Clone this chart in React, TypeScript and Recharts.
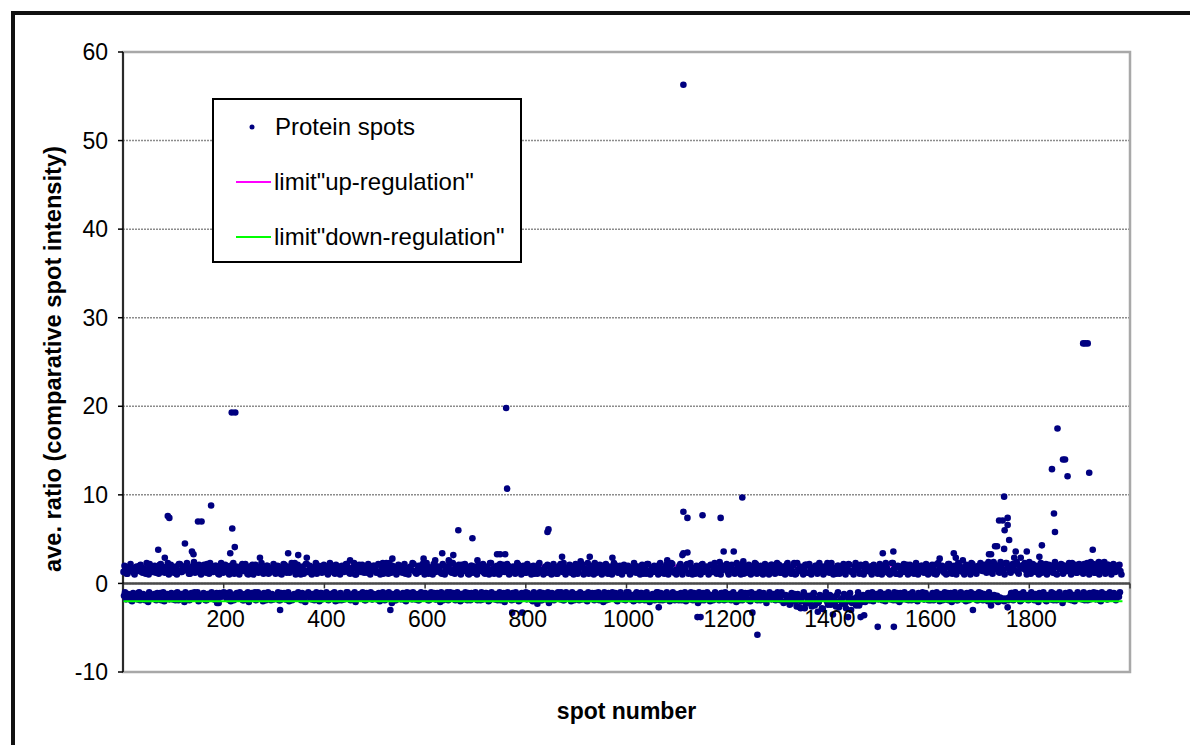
import { ScatterChart, Scatter, XAxis, YAxis, CartesianGrid, ReferenceLine, ReferenceArea } from 'recharts';

const upBand = [
  1.3, 1.6, 1.1, 1.9, 1.4, 1.2, 1.8, 1.5, 2.0, 1.3, 1.7, 1.1, 1.6, 2.2, 1.4, 1.9, 1.2, 1.5, 2.1, 1.3, 1.8, 1.6, 2.3, 1.4, 1.7,
  1.2, 1.9, 1.5, 2.2, 1.3, 1.7, 2.0, 1.4, 1.1, 1.8, 2.4, 1.5, 1.3, 1.9, 1.6, 2.1, 1.2, 1.7, 2.3, 1.4, 1.5, 2.0, 1.1, 1.8, 1.6,
  1.4, 1.7, 1.2, 2.0, 1.5, 1.1, 1.9, 1.3, 1.6, 2.2, 1.4, 1.8, 1.0, 1.5, 2.1, 1.3, 1.7, 1.2, 1.9, 1.6, 1.4, 2.0, 1.1, 1.5, 1.8,
  1.3, 1.6, 1.9, 1.1, 1.5, 2.1, 1.2, 1.8, 1.4, 1.7, 2.3, 1.3, 1.6, 1.0, 1.9, 1.4, 2.2, 1.5, 1.2, 1.8, 1.6, 1.1, 2.0, 1.4, 1.7,
  1.5, 1.2, 1.8, 1.4, 2.0, 1.1, 1.6, 1.9, 1.3, 1.7, 1.5, 2.2, 1.2, 1.4, 1.8, 1.0, 1.6, 2.1, 1.3, 1.5, 1.9, 1.2, 1.7, 1.4, 2.0,
  1.6, 1.3, 2.1, 1.5, 1.1, 1.8, 1.4, 2.3, 1.2, 1.7, 1.5, 1.9, 1.3, 1.6, 2.0, 1.1, 1.4, 1.8, 1.5, 2.2, 1.2, 1.6, 1.3, 1.9, 1.7,
  1.4, 1.9, 1.2, 1.6, 2.2, 1.3, 1.8, 1.5, 1.1, 2.0, 1.4, 1.7, 2.4, 1.2, 1.6, 1.9, 1.3, 1.5, 2.1, 1.4, 1.8, 1.1, 1.7, 2.0, 1.5,
  1.3, 1.7, 1.5, 2.0, 1.2, 1.8, 1.4, 2.3, 1.6, 1.1, 1.9, 1.5, 2.2, 1.3, 1.7, 1.4, 2.0, 1.2, 1.6, 1.8, 1.3, 2.1, 1.5, 1.4, 1.9,
  1.2, 1.6, 1.9, 1.4, 1.1, 1.8, 2.1, 1.3, 1.5, 1.7, 1.2, 2.0, 1.6, 1.4, 1.9, 1.1, 1.5, 2.2, 1.3, 1.7, 1.4, 1.8, 1.2, 1.6, 2.0,
  1.5, 1.3, 1.8, 2.1, 1.4, 1.6, 1.1, 1.9, 1.5, 2.3, 1.2, 1.7, 1.4, 2.0, 1.3, 1.6, 1.8, 1.1, 1.5, 2.1, 1.4, 1.7, 1.2, 1.9, 1.6,
  1.4, 1.8, 1.2, 1.6, 2.0, 1.3, 1.5, 1.9, 1.1, 1.7, 2.2, 1.4, 1.6, 1.3, 1.8, 1.5, 2.1, 1.2, 1.7, 1.4, 1.9, 1.6, 2.3, 1.3, 1.5,
  1.6, 2.0, 1.3, 1.7, 1.5, 2.2, 1.2, 1.8, 1.4, 1.1, 1.9, 1.6, 2.1, 1.3, 1.5, 1.8, 1.2, 2.0, 1.4, 1.7, 1.3, 2.4, 1.5, 1.6, 1.9,
  1.3, 1.7, 2.1, 1.4, 1.2, 1.9, 1.5, 1.8, 1.1, 1.6, 2.0, 1.3, 1.7, 1.5, 2.2, 1.4, 1.2, 1.8, 1.6, 1.3, 1.9, 1.5, 2.1, 1.4, 1.7,
  1.5, 1.2, 1.8, 1.6, 2.0, 1.3, 1.7, 1.4, 2.3, 1.1, 1.6, 1.9, 1.4, 1.5, 2.1, 1.2, 1.8, 1.3, 1.7, 2.0, 1.5, 1.4, 1.9, 1.2, 1.6,
  1.4, 1.9, 1.3, 1.7, 1.1, 2.0, 1.5, 1.8, 1.2, 1.6, 2.2, 1.4, 1.3, 1.9, 1.5, 1.7, 2.1, 1.2, 1.6, 1.4, 1.8, 1.3, 2.0, 1.5, 1.7,
  1.6, 1.3, 2.0, 1.5, 1.8, 1.2, 1.4, 2.3, 1.7, 1.1, 1.9, 1.5, 1.3, 1.8, 2.1, 1.4, 1.6, 1.2, 1.9, 1.5, 1.7, 2.0, 1.3, 1.6, 1.4,
  1.3, 1.8, 1.5, 2.1, 1.2, 1.6, 1.9, 1.4, 1.7, 1.1, 2.2, 1.5, 1.3, 1.8, 1.6, 2.0, 1.4, 1.2, 1.9, 1.5, 1.7, 2.3, 1.3, 1.6, 1.8,
  1.5, 2.0, 1.4, 1.8, 2.2, 1.3, 1.7, 2.4, 1.6, 1.9, 1.2, 2.1, 1.5, 2.3, 1.8, 1.4, 2.0, 1.6, 2.2, 1.3, 1.9, 1.7, 2.1, 1.5, 1.8,
  1.4, 1.7, 2.0, 1.3, 1.6, 1.9, 1.2, 1.8, 2.2, 1.5, 1.4, 2.0, 1.7, 1.1, 1.9, 1.6, 2.1, 1.3, 1.5, 1.8, 1.4, 2.3, 1.6, 1.2, 1.9,
  1.6, 1.3, 2.2, 1.5, 1.8, 1.4, 2.0, 1.2, 1.7, 2.3, 1.5, 1.9, 1.4, 1.6, 2.1, 1.3, 1.8, 1.5, 2.0, 1.7, 1.4,
];

// upper cloud, spots 3, 7, 11, ...
const upBand2 = [
  2.0, 1.1, 1.5, 2.2, 1.7, 1.0, 1.9, 1.4, 2.1, 1.2, 1.6, 2.3, 1.0, 1.8, 1.3, 2.0, 1.5, 1.1, 2.2, 1.7, 1.2, 1.9, 1.0, 2.1, 1.4,
  1.8, 1.0, 2.2, 1.3, 1.9, 1.5, 2.3, 1.1, 1.7, 2.0, 1.2, 1.6, 2.1, 1.0, 1.8, 1.4, 2.2, 1.1, 1.9, 1.3, 2.0, 1.6, 1.0, 2.3, 1.2,
  2.1, 1.5, 1.0, 1.8, 2.3, 1.2, 1.7, 1.0, 2.0, 1.4, 2.2, 1.1, 1.9, 1.6, 1.0, 2.1, 1.3, 1.8, 2.3, 1.1, 1.5, 2.0, 1.2, 1.7, 2.2,
  1.1, 2.0, 1.7, 1.0, 2.2, 1.4, 1.9, 1.2, 2.3, 1.6, 1.0, 2.1, 1.5, 1.8, 1.1, 2.2, 1.3, 2.0, 1.0, 1.7, 2.3, 1.4, 1.9, 1.2, 2.1,
  1.9, 1.0, 2.3, 1.5, 1.2, 2.1, 1.7, 1.0, 2.0, 1.3, 2.2, 1.8, 1.1, 1.6, 2.3, 1.0, 1.9, 1.4, 2.1, 1.2, 1.7, 2.2, 1.0, 1.5, 2.0,
  1.2, 2.2, 1.0, 1.9, 1.6, 2.3, 1.1, 1.8, 2.0, 1.3, 1.0, 2.1, 1.7, 1.2, 2.2, 1.5, 1.0, 1.9, 2.3, 1.4, 1.1, 2.0, 1.6, 2.2, 1.0,
  2.3, 1.1, 1.8, 1.0, 2.1, 1.5, 1.9, 1.2, 2.2, 1.0, 1.7, 2.0, 1.3, 2.3, 1.1, 1.6, 2.1, 1.0, 1.8, 2.2, 1.4, 1.0, 2.0, 1.2, 1.9,
  1.0, 2.1, 1.4, 2.2, 1.1, 1.9, 1.0, 2.3, 1.6, 1.2, 2.0, 1.0, 1.8, 2.1, 1.3, 2.2, 1.0, 1.7, 1.9, 1.1, 2.3, 1.5, 1.0, 2.0, 1.2,
  2.2, 1.3, 1.0, 2.0, 1.7, 1.1, 2.3, 1.5, 1.0, 1.9, 2.1, 1.2, 1.0, 2.2, 1.6, 1.1, 2.0, 1.4, 2.3, 1.0, 1.8, 2.1, 1.3, 1.0, 2.2,
  1.1, 1.9, 2.2, 1.0, 1.6, 2.3, 1.2, 2.0, 1.0, 1.8, 1.3, 2.1, 1.0, 1.7, 2.2, 1.1, 1.9, 1.0, 2.3, 1.5, 1.2, 2.0, 1.0, 2.1, 1.4,
  2.0, 1.0, 1.7, 2.3, 1.2, 1.9, 1.0, 2.1, 1.5, 1.1, 2.2, 1.0, 1.8, 2.0, 1.3, 1.0, 2.3, 1.6, 1.1, 2.1, 1.0, 1.9, 2.2, 1.2, 1.0,
  1.3, 2.2, 1.0, 1.8, 2.1, 1.1, 2.3, 1.0, 1.7, 2.0, 1.2, 1.0, 2.2, 1.5, 1.9, 1.0, 2.1, 1.3, 2.3, 1.1, 1.8, 1.0, 2.0, 1.6, 2.2,
  1.0, 2.0, 1.6, 1.1, 2.3, 1.4, 1.0, 2.2, 1.8, 1.2, 2.1, 1.0, 1.9, 2.3, 1.1, 1.7, 2.0, 1.0, 2.2, 1.3, 1.0, 2.1, 1.8, 1.1, 2.3,
  2.1, 1.2, 1.9, 1.0, 2.2, 1.6, 1.1, 2.0, 1.0, 2.3, 1.4, 1.8, 1.0, 2.1, 1.2, 2.2, 1.0, 1.7, 2.0, 1.1, 2.3, 1.3, 1.0, 1.9, 2.1,
  1.2, 2.3, 1.0, 1.7, 2.0, 1.1, 1.9, 2.2, 1.0, 1.5, 2.1, 1.3, 1.0, 2.3, 1.8, 1.1, 2.0, 1.0, 2.2, 1.4, 1.9, 1.0, 2.1, 1.6, 1.1,
  2.2, 1.0, 1.8, 2.1, 1.2, 1.0, 2.3, 1.6, 1.1, 2.0, 1.0, 1.9, 2.2, 1.3, 1.0, 2.1, 1.7, 1.1, 2.3, 1.0, 1.5, 2.0, 1.2, 2.2, 1.0,
  1.9, 2.1, 1.1, 1.0, 2.3, 1.5, 2.0, 1.2, 1.0, 2.2, 1.7, 1.1, 2.0, 1.0, 2.3, 1.4, 1.8, 1.0, 2.1, 1.3, 1.0, 2.2, 1.9, 1.1, 2.0,
  2.3, 1.4, 2.1, 1.2, 2.4, 1.8, 1.1, 2.2, 2.0, 1.3, 2.4, 1.6, 1.0, 2.3, 1.9, 1.2, 2.2, 1.5, 2.4, 1.1, 2.0, 1.7, 2.3, 1.0, 2.1,
  1.1, 2.2, 1.5, 2.0, 1.0, 2.3, 1.3, 1.9, 1.0, 2.1, 1.6, 1.2, 2.4, 1.0, 1.8, 2.2, 1.1, 2.0, 1.4, 2.3, 1.0, 1.7, 2.1, 1.2, 2.2,
  2.0, 1.1, 1.8, 2.3, 1.0, 1.6, 2.2, 1.2, 2.0, 1.0, 2.3, 1.4, 1.1, 2.1, 1.9, 1.0, 2.2, 1.3, 1.7, 2.1, 1.0,
];

// cloud below zero, spots 2, 6, 10, ...
const downBand = [
  -1.4, -1.8, -1.2, -1.6, -2.0, -1.3, -1.7, -1.1, -1.9, -1.5, -1.3, -1.8, -2.1, -1.4, -1.6, -1.2, -1.9, -1.5, -1.1, -1.7, -2.0, -1.3, -1.6, -1.4, -1.8,
  -1.5, -1.1, -1.9, -1.3, -1.7, -2.1, -1.4, -1.2, -1.8, -1.6, -1.0, -1.5, -2.0, -1.3, -1.7, -1.4, -1.9, -1.2, -1.6, -1.5, -1.8, -1.1, -2.2, -1.4, -1.3,
  -1.2, -1.7, -1.5, -2.0, -1.3, -1.8, -1.1, -1.6, -1.4, -1.9, -1.2, -1.5, -2.1, -1.3, -1.7, -1.0, -1.8, -1.4, -1.6, -2.0, -1.2, -1.5, -1.3, -1.9, -1.7,
  -1.6, -1.3, -1.9, -1.1, -1.5, -1.8, -1.2, -2.0, -1.4, -1.7, -1.3, -1.6, -1.1, -1.9, -1.5, -2.1, -1.2, -1.4, -1.8, -1.6, -1.3, -1.7, -2.0, -1.1, -1.5,
  -1.3, -1.8, -1.4, -1.6, -1.1, -2.0, -1.5, -1.2, -1.9, -1.7, -1.4, -1.0, -1.8, -1.3, -1.6, -2.1, -1.5, -1.2, -1.7, -1.4, -1.9, -1.3, -1.6, -1.8, -1.2,
  -1.7, -1.2, -2.0, -1.5, -1.3, -1.8, -1.1, -1.6, -2.2, -1.4, -1.9, -1.2, -1.5, -1.7, -1.3, -2.0, -1.6, -1.1, -1.8, -1.4, -1.5, -1.9, -1.2, -1.7, -1.3,
  -1.4, -1.9, -1.3, -1.6, -1.1, -1.8, -1.5, -2.1, -1.2, -1.7, -1.4, -1.9, -1.0, -1.6, -1.3, -1.8, -1.5, -2.0, -1.2, -1.4, -1.7, -1.1, -1.9, -1.5, -1.6,
  -1.2, -1.6, -1.9, -1.4, -1.7, -1.1, -2.0, -1.5, -1.3, -1.8, -1.6, -1.2, -1.9, -1.4, -2.1, -1.3, -1.7, -1.5, -1.1, -1.8, -1.4, -2.0, -1.6, -1.2, -1.5,
  -1.8, -1.3, -1.5, -2.0, -1.2, -1.7, -1.4, -1.9, -1.1, -1.6, -1.3, -2.2, -1.5, -1.8, -1.2, -1.4, -1.7, -1.0, -1.9, -1.6, -1.3, -1.5, -2.0, -1.4, -1.7,
  -1.5, -1.9, -1.2, -1.7, -1.4, -2.0, -1.3, -1.6, -1.8, -1.1, -1.5, -1.9, -1.3, -2.1, -1.6, -1.2, -1.8, -1.4, -1.7, -1.1, -2.0, -1.5, -1.3, -1.6, -1.9,
  -1.3, -1.7, -1.4, -2.0, -1.2, -1.6, -1.9, -1.1, -1.5, -1.8, -1.4, -2.1, -1.3, -1.7, -1.5, -1.0, -1.9, -1.6, -1.2, -1.8, -1.4, -2.0, -1.5, -1.3, -1.7,
  -1.6, -1.2, -1.9, -1.5, -2.0, -1.3, -1.8, -1.4, -1.1, -1.7, -2.2, -1.5, -1.3, -1.9, -1.6, -1.2, -2.0, -1.4, -1.8, -1.5, -1.3, -1.7, -1.1, -1.9, -1.6,
  -1.4, -1.8, -1.3, -1.6, -2.1, -1.5, -1.2, -1.9, -1.7, -1.4, -1.1, -2.0, -1.6, -1.3, -1.8, -1.5, -1.9, -1.2, -1.7, -2.2, -1.4, -1.6, -1.3, -1.8, -1.5,
  -1.5, -1.9, -1.3, -2.1, -1.6, -1.4, -2.3, -1.8, -1.2, -2.6, -1.7, -2.0, -1.5, -2.8, -1.4, -2.2, -1.9, -1.3, -2.5, -1.7, -2.1, -1.6, -2.9, -1.4, -2.0,
  -1.8, -2.4, -1.5, -2.1, -1.3, -2.7, -1.9, -1.6, -2.3, -1.4, -2.0, -3.0, -1.7, -2.2, -1.5, -2.5, -1.8, -1.3, -2.1, -1.6, -1.9, -1.4, -2.0, -1.7, -1.5,
  -1.3, -1.8, -1.5, -2.0, -1.2, -1.7, -1.4, -1.9, -1.6, -1.1, -2.1, -1.5, -1.3, -1.8, -1.6, -1.2, -1.9, -1.4, -1.7, -2.0, -1.3, -1.5, -1.8, -1.1, -1.6,
  -1.7, -1.3, -1.9, -1.5, -1.2, -2.0, -1.6, -1.4, -1.8, -1.1, -1.5, -2.1, -1.3, -1.7, -1.9, -1.4, -1.6, -1.2, -2.0, -1.5, -1.8, -1.3, -1.7, -1.4, -1.9,
  -1.4, -1.8, -1.2, -1.6, -2.0, -1.5, -1.9, -1.3, -1.7, -2.1, -1.6, -1.8, -2.0, -1.7, -1.9, -1.5, -1.1, -1.8, -1.4, -1.6, -2.0, -1.2, -1.7, -1.5, -1.9,
  -1.5, -1.2, -1.9, -1.6, -2.1, -1.3, -1.7, -1.4, -2.0, -1.5, -1.8, -1.1, -1.6, -1.9, -1.3, -1.7, -2.2, -1.4, -1.5, -1.8, -1.2, -1.6, -2.0, -1.4, -1.7,
  -1.3, -1.6, -1.9, -1.2, -1.5, -1.8, -1.4, -1.7, -1.1, -1.6, -2.0, -1.3, -1.5, -1.8, -1.2, -1.7, -1.4, -1.6, -1.3, -1.5,
];

// cloud below zero, spots 4, 8, 12, ...
const downBand2 = [
  -1.0, -1.7, -1.3, -1.9, -1.1, -1.5, -1.8, -1.0, -1.6, -1.2, -1.9, -1.4, -1.0, -1.7, -1.3, -1.8, -1.1, -1.5, -1.9, -1.0, -1.6, -1.2, -1.8, -1.1, -1.4,
  -1.9, -1.0, -1.6, -1.2, -1.8, -1.0, -1.4, -1.9, -1.1, -1.7, -1.3, -1.0, -1.8, -1.5, -1.1, -1.9, -1.2, -1.6, -1.0, -1.8, -1.3, -1.9, -1.1, -1.5, -1.0,
  -1.1, -1.8, -1.0, -1.5, -1.9, -1.2, -1.7, -1.0, -1.6, -1.9, -1.3, -1.0, -1.8, -1.1, -1.6, -1.9, -1.0, -1.4, -1.7, -1.1, -1.9, -1.0, -1.6, -1.2, -1.8,
  -1.7, -1.0, -1.9, -1.3, -1.1, -1.8, -1.0, -1.5, -1.9, -1.2, -1.6, -1.0, -1.8, -1.1, -1.9, -1.4, -1.0, -1.7, -1.2, -1.9, -1.0, -1.6, -1.1, -1.8, -1.3,
  -1.0, -1.9, -1.2, -1.7, -1.0, -1.6, -1.9, -1.1, -1.4, -1.8, -1.0, -1.5, -1.9, -1.2, -1.0, -1.8, -1.3, -1.7, -1.0, -1.9, -1.1, -1.6, -1.0, -1.8, -1.4,
  -1.8, -1.1, -1.6, -1.0, -1.9, -1.3, -1.0, -1.7, -1.2, -1.9, -1.0, -1.5, -1.8, -1.1, -1.9, -1.0, -1.4, -1.7, -1.0, -1.8, -1.2, -1.9, -1.0, -1.6, -1.1,
  -1.2, -1.9, -1.0, -1.6, -1.8, -1.1, -1.7, -1.0, -1.9, -1.3, -1.0, -1.8, -1.5, -1.1, -1.9, -1.0, -1.6, -1.2, -1.8, -1.0, -1.9, -1.4, -1.1, -1.7, -1.0,
  -1.9, -1.3, -1.0, -1.8, -1.1, -1.6, -1.9, -1.0, -1.5, -1.2, -1.9, -1.0, -1.7, -1.1, -1.8, -1.0, -1.4, -1.9, -1.2, -1.0, -1.7, -1.9, -1.1, -1.6, -1.0,
  -1.1, -1.6, -1.9, -1.0, -1.7, -1.2, -1.0, -1.9, -1.4, -1.8, -1.0, -1.6, -1.1, -1.9, -1.3, -1.0, -1.8, -1.2, -1.9, -1.0, -1.5, -1.7, -1.0, -1.9, -1.2,
  -1.7, -1.0, -1.8, -1.2, -1.9, -1.0, -1.5, -1.1, -1.9, -1.6, -1.0, -1.8, -1.3, -1.0, -1.9, -1.1, -1.7, -1.0, -1.6, -1.9, -1.2, -1.0, -1.8, -1.4, -1.0,
  -1.0, -1.8, -1.3, -1.9, -1.0, -1.7, -1.1, -1.6, -1.9, -1.0, -1.4, -1.8, -1.2, -1.9, -1.0, -1.6, -1.1, -1.9, -1.3, -1.0, -1.8, -1.5, -1.0, -1.9, -1.2,
  -1.9, -1.1, -1.7, -1.0, -1.8, -1.4, -1.0, -1.9, -1.2, -1.6, -1.0, -1.9, -1.1, -1.7, -1.0, -1.8, -1.3, -1.9, -1.0, -1.5, -1.9, -1.1, -1.6, -1.0, -1.8,
  -1.2, -1.9, -1.0, -1.7, -1.3, -1.9, -1.0, -1.6, -1.1, -1.8, -1.9, -1.0, -1.5, -1.2, -1.9, -1.0, -1.7, -1.1, -1.9, -1.4, -1.0, -1.8, -1.2, -1.9, -1.0,
  -1.8, -1.0, -2.2, -1.3, -1.9, -2.4, -1.1, -1.7, -2.0, -1.2, -2.7, -1.6, -1.0, -2.3, -1.8, -1.4, -2.6, -1.1, -1.9, -2.2, -1.3, -2.8, -1.7, -1.0, -2.4,
  -1.3, -2.1, -1.7, -2.6, -1.0, -1.9, -2.3, -1.2, -2.8, -1.6, -1.1, -2.2, -1.8, -2.5, -1.0, -1.9, -2.1, -1.4, -1.7, -1.1, -1.9, -1.0, -1.6, -1.2, -1.8,
  -1.0, -1.9, -1.2, -1.7, -1.0, -1.8, -1.3, -1.0, -1.9, -1.5, -1.1, -1.8, -1.0, -1.6, -1.9, -1.2, -1.0, -1.7, -1.9, -1.1, -1.6, -1.0, -1.8, -1.3, -1.9,
  -1.9, -1.1, -1.6, -1.0, -1.8, -1.2, -1.9, -1.0, -1.5, -1.9, -1.1, -1.7, -1.0, -1.9, -1.3, -1.0, -1.8, -1.6, -1.1, -1.9, -1.0, -1.7, -1.2, -1.9, -1.0,
  -1.1, -1.9, -1.3, -1.7, -1.0, -1.8, -1.6, -1.9, -1.4, -1.8, -1.9, -1.7, -1.9, -1.8, -1.6, -1.1, -1.9, -1.0, -1.7, -1.2, -1.9, -1.0, -1.6, -1.3, -1.8,
  -1.0, -1.8, -1.2, -1.9, -1.1, -1.6, -1.0, -1.9, -1.3, -1.7, -1.0, -1.9, -1.2, -1.8, -1.0, -1.5, -1.9, -1.1, -1.7, -1.0, -1.9, -1.3, -1.8, -1.0, -1.6,
  -1.8, -1.0, -1.5, -1.9, -1.1, -1.7, -1.0, -1.8, -1.3, -1.9, -1.0, -1.6, -1.2, -1.8, -1.0, -1.7, -1.1, -1.9, -1.4, -1.0,
];

// single spots away from the bands: [spot number, ratio]
const outliers: [number, number][] = [
  [70, 3.8], [83, 2.9], [89, 7.6], [92, 7.4], [123, 4.5], [137, 3.6], [140, 3.3], [149, 7.0], [156, 7.0], [175, 8.8],
  [213, 3.4], [217, 6.2], [222, 4.1], [216, 19.3], [223, 19.3], [272, 2.9], [328, 3.4], [348, 3.2], [365, 2.9], [451, 2.6],
  [516, 2.3], [535, 2.8], [597, 2.8], [620, 2.6], [634, 3.4], [647, 2.6], [656, 3.2], [666, 6.0], [694, 5.1], [704, 2.6],
  [743, 3.3], [749, 3.3], [759, 3.3], [761, 19.8], [763, 10.7], [843, 5.8], [845, 6.1], [872, 3.0], [909, 2.5], [927, 3.0],
  [972, 2.9], [1081, 2.6], [1111, 3.2], [1113, 8.1], [1113, 3.4], [1113, 56.3], [1121, 7.4], [1121, 3.5], [1151, 7.7], [1187, 7.4],
  [1193, 3.6], [1213, 3.6], [1230, 9.7], [1232, 2.5], [1320, 2.3], [1399, 2.3], [1509, 3.4], [1515, 2.3], [1530, 3.6], [1622, 2.8],
  [1650, 3.4], [1654, 2.9], [1668, 2.6], [1720, 3.3], [1724, 3.3], [1732, 4.2], [1736, 4.2], [1740, 7.1], [1747, 7.1], [1750, 9.8],
  [1750, 3.9], [1751, 6.0], [1757, 7.4], [1757, 6.6], [1760, 4.9], [1770, 2.9], [1773, 3.6], [1783, 2.9], [1795, 3.6], [1800, 2.4],
  [1820, 3.0], [1825, 4.3], [1845, 12.9], [1849, 7.9], [1851, 5.8], [1856, 17.5], [1867, 14.0], [1871, 14.0], [1876, 12.1], [1907, 27.1],
  [1911, 27.1], [1916, 27.1], [1919, 12.5], [1926, 3.8], [1922, 2.4], [1938, 2.4], [1949, 2.4],
  [187, -2.2], [312, -3.0], [531, -3.0], [773, -3.3], [793, -3.3], [823, -2.3], [1064, -2.7], [1141, -3.8], [1147, -3.8], [1250, -3.3],
  [1260, -5.8], [1346, -2.8], [1380, -3.2], [1410, -3.5], [1440, -3.8], [1465, -3.8], [1472, -3.6], [1499, -4.9], [1531, -4.9], [1688, -3.0],
  [1724, -2.5], [1757, -2.7],
];

const limitSpots = [1, 1985];
const upLimit = 2;
const downLimit = -2;

const yTicks = [-10, 0, 10, 20, 30, 40, 50, 60];
const xTicks = [0, 200, 400, 600, 800, 1000, 1200, 1400, 1600, 1800, 2000];
const xTickLabels = ['', '200', '400', '600', '800', '1000', '1200', '1400', '1600', '1800', ''];

const BAND_STEP = 4;
const band = (values: number[], first: number) => values.map((ratio, i) => ({ spot: first + i * BAND_STEP, ratio }));

const spots = [
  ...band(upBand, 1),
  ...band(downBand, 2),
  ...band(upBand2, 3),
  ...band(downBand2, 4),
  ...outliers.map(([spot, ratio]) => ({ spot, ratio })),
];
const upLine = limitSpots.map((spot) => ({ spot, ratio: upLimit }));
const downLine = limitSpots.map((spot) => ({ spot, ratio: downLimit }));

const W = 1190;
const H = 745;
const X_AXIS_H = 30;
const MARGIN = { top: 52, right: 60, bottom: 73 - X_AXIS_H, left: 63 };
const Y_MIN = -10;
const Y_MAX = 60;
const FONT = '"Liberation Sans", Arial, sans-serif';
const TICK_FONT = 23;

// x axis crosses at ratio 0, so the tick labels sit under the zero line
const plotH = H - MARGIN.top - MARGIN.bottom - X_AXIS_H;
const zeroY = MARGIN.top + ((Y_MAX - 0) / (Y_MAX - Y_MIN)) * plotH;

function SpotTick(props: any) {
    const { x, payload } = props;
    const label = xTickLabels[xTicks.indexOf(payload.value)];
    return (
        <g>
            <line x1={x} x2={x} y1={zeroY} y2={zeroY + 5} stroke="#333" strokeWidth={1.5} />
            <text x={x + 2} y={zeroY + 36} textAnchor="middle" dominantBaseline="central" fontSize={TICK_FONT} fill="#000" fontFamily={FONT}>
                {label}
            </text>
        </g>
    );
}

function XLabel(p: any) {
    const vb = p.viewBox ?? { x: 123, y: 672, width: 1007, height: X_AXIS_H };
    return (
        <text x={vb.x + vb.width / 2} y={vb.y + 39} textAnchor="middle" dominantBaseline="central" fontSize={23} fontWeight="bold" fill="#000" fontFamily={FONT}>
            spot number
        </text>
    );
}

function YLabel(p: any) {
    const vb = p.viewBox ?? { x: 63, y: 52, width: 60, height: 620 };
    const cx = vb.x - 11;
    const cy = vb.y + vb.height / 2 - 3;
    return (
        <text
            x={cx}
            y={cy}
            transform={`rotate(-90 ${cx} ${cy})`}
            textAnchor="middle"
            dominantBaseline="central"
            fontSize={24}
            fontWeight="bold"
            fill="#000"
            fontFamily={FONT}
            textLength={426}
            lengthAdjust="spacingAndGlyphs"
        >
            ave. ratio (comparative spot intensity)
        </text>
    );
}

const dot = (p: any) => <circle cx={p.cx} cy={p.cy} r={3.3} fill="#000080" />;
const noDot = () => <g />;

export default function App() {
    return (
        <div style={{ position: 'absolute', left: 0, top: 0, width: W, height: H, overflow: 'hidden', background: '#fff', fontFamily: FONT }}>
            {/* outer frame */}
            <div style={{ position: 'absolute', left: 11, top: 11, width: W, height: H, borderTop: '4px solid #111', borderLeft: '4px solid #111' }} />

            <div style={{ position: 'absolute', left: 0, top: 0 }}>
                <ScatterChart width={W} height={H} margin={MARGIN}>
                    <CartesianGrid vertical={false} stroke="#8c8c8c" strokeDasharray="2 1" strokeWidth={1.5} />
                    <ReferenceArea x1={0} x2={2000} y1={Y_MIN} y2={Y_MAX} fill="none" stroke="#a8a8a8" strokeWidth={2.5} ifOverflow="visible" />
                    <XAxis
                        type="number"
                        dataKey="spot"
                        domain={[0, 2000]}
                        ticks={xTicks}
                        interval={0}
                        height={X_AXIS_H}
                        axisLine={false}
                        tickLine={false}
                        tick={<SpotTick />}
                        label={<XLabel />}
                    />
                    <YAxis
                        type="number"
                        dataKey="ratio"
                        domain={[Y_MIN, Y_MAX]}
                        ticks={yTicks}
                        interval={0}
                        width={60}
                        axisLine={{ stroke: '#000', strokeWidth: 1.5 }}
                        tickLine={{ stroke: '#000', strokeWidth: 1.5 }}
                        tickSize={5}
                        tickMargin={10}
                        tick={{ fill: '#000', fontSize: TICK_FONT, fontFamily: FONT }}
                        label={<YLabel />}
                    />
                    <ReferenceLine y={0} stroke="#4a4a4a" strokeWidth={2.5} />
                    <Scatter name='limit"up-regulation"' data={upLine} line={{ stroke: '#ff00ff', strokeWidth: 2 }} shape={noDot} isAnimationActive={false} />
                    <Scatter name="Protein spots" data={spots} shape={dot} isAnimationActive={false} />
                    <Scatter name='limit"down-regulation"' data={downLine} line={{ stroke: '#00ff00', strokeWidth: 2 }} shape={noDot} isAnimationActive={false} />
                </ScatterChart>
            </div>

            {/* legend box */}
            <div style={{ position: 'absolute', left: 212, top: 98, width: 306, height: 161, border: '2px solid #000', background: '#fff', fontSize: 24, color: '#000' }}>
                <svg width={306} height={161} style={{ position: 'absolute', left: 0, top: 0 }}>
                    <circle cx={38} cy={27} r={2.5} fill="#000080" />
                    <line x1={22} x2={57} y1={82} y2={82} stroke="#ff00ff" strokeWidth={2} />
                    <line x1={22} x2={57} y1={137} y2={137} stroke="#00ff00" strokeWidth={2} />
                </svg>
                <div style={{ position: 'absolute', left: 61, top: 12, lineHeight: '30px', whiteSpace: 'nowrap' }}>Protein spots</div>
                <div style={{ position: 'absolute', left: 60, top: 67, lineHeight: '30px', whiteSpace: 'nowrap' }}>limit"up-regulation"</div>
                <div style={{ position: 'absolute', left: 60, top: 122, lineHeight: '30px', whiteSpace: 'nowrap' }}>limit"down-regulation"</div>
            </div>
        </div>
    );
}
